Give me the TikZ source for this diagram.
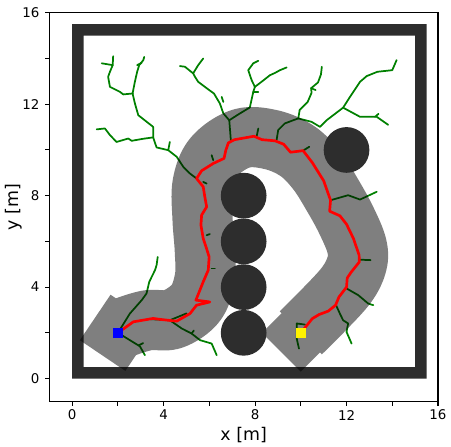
\documentclass[tikz,border=0pt]{standalone}
\usepackage{fontspec}
\setmainfont{DejaVu Sans}
\usepackage{xcolor}
\usepackage{tikz}
\definecolor{wallgray}{HTML}{2D2D2D}
\definecolor{treegreen}{HTML}{008000}

\begin{document}
\begin{tikzpicture}[
  x=0.6cm, y=0.6cm,
  tree/.style={treegreen, line width=1.3pt, line join=round, line cap=round},
  route/.style={red, line width=2pt, line join=round},
  obstacle/.style={circle, fill=wallgray, minimum size=1.2cm, inner sep=0pt},
  marker/.style={rectangle, minimum size=7pt, inner sep=0pt},
  ticklabel/.style={font=\fontsize{10}{12}\selectfont, inner sep=0pt},
  axislabel/.style={font=\fontsize{13}{15}\selectfont, inner sep=0pt}
]
\useasboundingbox (-3.16,-2.96) rectangle (16.57,16.56);

% walls of the room
\fill[wallgray, even odd rule] (0,0) rectangle (15.5,15.5) (0.5,0.5) rectangle (15,15);

% search trees
\draw[tree] (5.44,8.75) -- (5.15,8.97) -- (4.86,9.26) -- (4.57,9.70) -- (4.20,9.99) -- (3.69,10.11)
  -- (3.54,10.55) -- (3.54,11.01) -- (2.89,11.52) -- (2.74,12.04) -- (2.64,12.47);
\draw[tree] (4.20,9.99) -- (4.27,10.35);
\draw[tree] (3.54,10.55) -- (3.11,10.49) -- (2.60,10.40) -- (2.45,10.50) -- (1.94,10.35)
  -- (1.65,10.65) -- (1.43,10.94) -- (1.07,10.90);
\draw[tree] (2.64,12.47) -- (2.23,12.43) -- (2.09,12.54) -- (1.65,12.76) -- (1.57,13.20)
  -- (1.65,13.42) -- (1.77,13.71) -- (1.79,14.10);
\draw[tree] (1.77,13.71) -- (1.29,13.79);
\draw[tree] (2.64,12.47) -- (2.74,12.98) -- (2.84,13.42) -- (2.93,13.71) -- (3.11,13.93) -- (3.15,14.07);
\draw[tree] (2.84,13.71) -- (3.04,13.81);

\draw[tree] (6.94,10.40) -- (6.87,11.30) -- (6.61,11.60) -- (6.46,12.03) -- (6.2,12.47) -- (5.95,12.65)
  -- (5.51,12.98) -- (5.37,13.20) -- (5.29,13.35) -- (4.93,13.64) -- (4.71,13.67);
\draw[tree] (5.29,13.35) -- (5.51,13.71) -- (5.73,14.0);
\draw[tree] (6.54,12.32) -- (6.61,12.1);
\draw[tree] (6.87,11.30) -- (7.26,11.55) -- (7.77,11.86) -- (7.92,12.54) -- (7.99,12.76) -- (8.28,12.98)
  -- (8.65,13.27) -- (8.87,13.37) -- (9.09,13.49) -- (9.38,13.61);
\draw[tree] (7.99,12.76) -- (7.85,13.05) -- (7.7,13.49) -- (7.92,13.79) -- (8.14,13.9);
\draw[tree] (7.92,12.54) -- (8.14,12.54);

\draw[tree] (8.94,10.43) -- (9.01,10.87) -- (9.3,11.16) -- (9.67,11.3) -- (9.89,11.38)
  -- (9.95,11.75) -- (10.3,12.1) -- (10.47,12.5) -- (10.45,12.7) -- (10.75,12.95) -- (10.88,13.3) -- (10.92,13.64);
\draw[tree] (10.45,12.7) -- (10.65,12.62);
\draw[tree] (9.89,11.38) -- (10.47,11.23) -- (10.84,11.01) -- (11.13,11.3) -- (11.85,11.85) -- (12.15,12.32)
  -- (12.59,12.98) -- (12.88,13.23) -- (13.35,13.42) -- (14.0,13.49) -- (14.19,13.93);
\draw[tree] (11.85,11.85) -- (12.59,11.45) -- (13.32,11.45) -- (13.82,11.1);
\draw[tree] (13.25,11.45) -- (13.4,11.58);
\draw[tree] (8.07,10.6) -- (8.14,10.94);
\draw[tree] (10.1,9.97) -- (10.37,10.14);

\draw[tree] (11.3,7.8) -- (12.07,8.02) -- (12.59,7.83) -- (13.32,8.17);
\draw[tree] (12.58,5.2) -- (13.05,5.18);
\draw[tree] (12.0,3.94) -- (12.51,3.65) -- (12.95,3.28) -- (13.17,3.21);
\draw[tree] (11.54,3.21) -- (11.71,2.84) -- (11.85,2.55) -- (12.07,2.41) -- (12.0,2.04) -- (12.22,1.53);
\draw[tree] (10.18,2.36) -- (9.82,2.41) -- (9.82,1.75) -- (9.92,1.31);

\draw[tree] (2,2) -- (2.52,2.84) -- (3.04,3.43) -- (3.25,3.72) -- (3.37,4.23) -- (3.62,4.74)
  -- (3.69,4.96) -- (3.74,5.32);
\draw[tree] (2,2) -- (2.52,1.68) -- (2.96,1.41) -- (3.18,1.02);
\draw[tree] (2.9,1.45) -- (3.1,1.55);
\draw[tree] (4.27,2.55) -- (4.79,2.19) -- (5.22,1.97) -- (5.59,1.68) -- (6.1,1.53) -- (6.32,1.02);
\draw[tree] (5.22,1.97) -- (5.32,2.1);
\draw[tree] (3.4,2.6) -- (4.27,2.55) -- (5.0,2.85);
\draw[tree] (6.1,4.81) -- (6.24,4.81);
\draw[tree] (5.88,6.27) -- (6.02,6.32);
\draw[tree] (5.73,8.6) -- (5.88,8.53);
\draw[tree] (6.1,9.77) -- (6.17,9.55);

% swept area of the robot
\begin{scope}[transparency group, opacity=0.5]
  \draw[line width=1.58cm, line join=round] plot[smooth, tension=0.6] coordinates {
    (2.3,2.25) (3.3,2.55) (4.4,2.6) (5.4,3.3) (5.8,4.4) (5.8,5.6) (5.7,7.0) (5.7,8.5)
    (6.2,9.7) (7.4,10.5) (8.7,10.45) (9.85,9.95) (10.7,9.1) (11.4,8.0) (12.0,6.9)
    (12.45,5.8) (12.45,5.0) (12.0,4.1) (11.0,3.0) (10,2)};
  \fill[rotate around={56:(2,2)}] (0.8,0.8) rectangle (3.2,3.2);
  \fill[rotate around={45:(10,2)}] (8.8,0.8) rectangle (11.2,3.2);
\end{scope}

% obstacles
\foreach \i/\cy in {1/2,2/4,3/6,4/8}
  \node[obstacle] (obs\i) at (7.5,\cy) {};
\node[obstacle] (obs5) at (12,10) {};

% planned path
\draw[route] (2,2) -- (2.67,2.48) -- (3.54,2.63) -- (3.91,2.58) -- (4.57,2.51) -- (5.15,2.84)
  -- (5.44,3.21) -- (6.02,3.35) -- (5.41,3.43) -- (5.73,4.23) -- (5.95,4.74) -- (5.99,5.32)
  -- (5.9,5.61) -- (5.73,6.13) -- (5.63,6.71) -- (5.66,7.15) -- (5.88,7.51) -- (5.8,7.95)
  -- (5.73,8.39) -- (5.44,8.75) -- (5.66,9.09) -- (6.17,9.41) -- (6.64,9.63) -- (6.72,9.99)
  -- (6.83,10.31) -- (7.1,10.45) -- (7.95,10.6) -- (8.3,10.45) -- (8.87,10.4) -- (9.25,10.25)
  -- (9.55,9.9) -- (10.1,9.97) -- (10.5,9.45) -- (11.0,8.65) -- (11.3,7.8) -- (11.26,7.32)
  -- (11.71,7.12) -- (12,6.75) -- (12.3,6.13) -- (12.55,5.4) -- (12.56,5.1) -- (12.2,4.65)
  -- (12.03,4.4) -- (12,4.0) -- (11.67,3.57) -- (11.52,3.21) -- (11.2,2.95) -- (10.8,2.8)
  -- (10.5,2.62) -- (10.18,2.22) -- (10,2);

\node[marker, fill=blue] (start) at (2,2) {};
\node[marker, fill=yellow] (goal) at (10,2) {};

% axes
\draw[line width=0.8pt] (-1,-1) rectangle (16,16);
\foreach \t in {0,2,...,16} {
  \draw[line width=0.8pt] (\t,-1) -- ++(0,-3.5pt);
  \draw[line width=0.8pt] (-1,\t) -- ++(-3.5pt,0);
}
\foreach \t in {0,4,...,16} {
  \node[ticklabel] (xt\t) at (\t,-1.6) {\t};
  \node[ticklabel, anchor=east] (yt\t) at (-1.42,\t) {\t};
}
\node[axislabel] (xlab) at (7.5,-2.45) {x [m]};
\node[axislabel, rotate=90] (ylab) at (-2.55,7.5) {y [m]};
\end{tikzpicture}
\end{document}
